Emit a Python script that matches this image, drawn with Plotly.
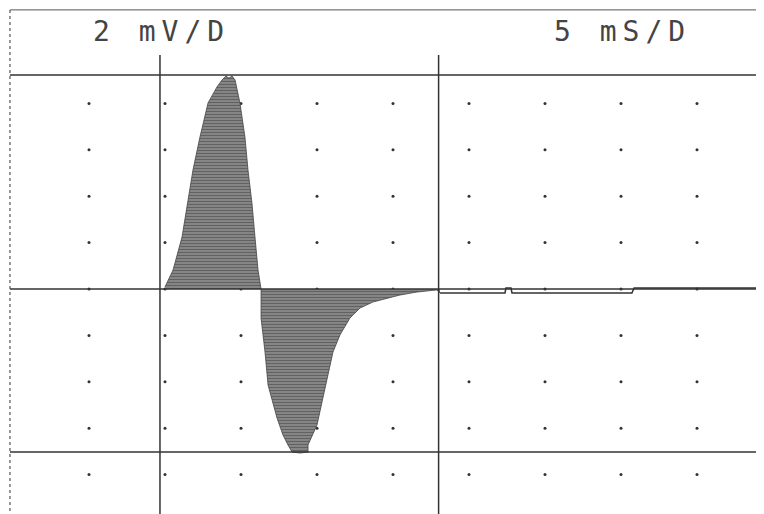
import numpy as np
import plotly.graph_objects as go

# trace sampled off the printout (time in ms, amplitude in mV)
t_ms = [0.0, 0.53, 1.12, 1.51, 1.84, 2.30, 2.83, 3.42, 3.75, 4.01, 4.21, 4.41, 4.61,
        4.93, 5.26, 5.46, 5.72, 5.92, 6.12, 6.32,
        6.32, 6.58, 6.78, 7.37, 7.76, 8.09, 8.36, 8.88, 9.41, 9.41, 10.00, 10.33,
        10.72, 11.05, 11.51, 12.17, 12.83, 13.68, 15.46, 16.58, 17.89, 18.09]
v_mv = [0.09, 0.82, 2.24, 3.71, 5.13, 6.55, 8.02, 8.71, 9.01, 9.18, 9.09, 9.18, 9.01,
        8.02, 6.55, 5.13, 3.71, 2.24, 0.82, 0.0,
        -1.25, -2.72, -4.14, -5.56, -6.29, -6.72, -7.03, -7.07, -7.03, -6.72, -5.86, -4.87,
        -3.71, -2.72, -1.98, -1.25, -0.82, -0.56, -0.26, -0.13, -0.04, -0.17]

# flat tail after the response
tail_t = [18.09, 19.74, 22.37, 22.43, 22.76, 22.83, 30.72, 30.86, 39.4]
tail_v = [-0.17, -0.17, -0.17, 0.04, 0.04, -0.17, -0.17, 0.04, 0.04]

# graticule dots: 5 ms/div, 2 mV/div
dot_t = [-5, 0, 5, 10, 15, 20, 25, 30, 35]
dot_v = [-8, -6, -4, -2, 0, 2, 4, 6, 8]

# ruled lines of the printout
hlines_mv = [9.22, 0.0, -7.03]
vlines_ms = [-0.33, 18.0]
top_border_mv = 12.03
left_border_ms = -10.2

# page has an 8px body margin, so the figure is 756x506 and the ranges start there
x_range = [-10.329, 39.408]
y_range = [-9.698, 12.112]

ink = "#333333"

fig = go.Figure()

gt, gv = np.meshgrid(dot_t, dot_v)
fig.add_trace(go.Scatter(
    x=gt.flatten(), y=gv.flatten(), mode="markers",
    marker=dict(size=3, color=ink), hoverinfo="skip"))

fig.add_trace(go.Scatter(
    x=t_ms, y=v_mv, mode="lines", fill="tozeroy",
    line=dict(color="#444444", width=0.8),
    fillpattern=dict(shape="-", fgcolor="#111111", bgcolor="#b0b0b0", size=3, solidity=0.7),
    fillcolor="rgba(0,0,0,0)"))

fig.add_trace(go.Scatter(
    x=tail_t, y=tail_v, mode="lines", line=dict(color=ink, width=1.5)))

for v in hlines_mv:
    fig.add_shape(type="line", x0=left_border_ms, x1=x_range[1], y0=v, y1=v,
                  line=dict(color=ink, width=1.5))
for t in vlines_ms:
    fig.add_shape(type="line", x0=t, x1=t, y0=10.09, y1=y_range[0],
                  line=dict(color=ink, width=1.5))
fig.add_shape(type="line", x0=left_border_ms, x1=x_range[1], y0=top_border_mv, y1=top_border_mv,
              line=dict(color="#555555", width=1))
fig.add_shape(type="line", x0=left_border_ms, x1=left_border_ms, y0=top_border_mv, y1=y_range[0],
              line=dict(color="#555555", width=1.2, dash="dot"))

lab_font = dict(family="DejaVu Sans Mono", size=28, color="#444444")
fig.add_annotation(x=-0.26, y=11.12, text='<span style="letter-spacing:6px">2 mV/D</span>',
                   showarrow=False, font=lab_font)
fig.add_annotation(x=30.07, y=11.12, text='<span style="letter-spacing:6px">5 mS/D</span>',
                   showarrow=False, font=lab_font)

fig.update_layout(
    width=756, height=506, margin=dict(l=0, r=0, t=0, b=0),
    paper_bgcolor="white", plot_bgcolor="white", showlegend=False,
    xaxis=dict(range=x_range, visible=False, showgrid=False, zeroline=False),
    yaxis=dict(range=y_range, visible=False, showgrid=False, zeroline=False),
)

fig.write_html("out.html")
